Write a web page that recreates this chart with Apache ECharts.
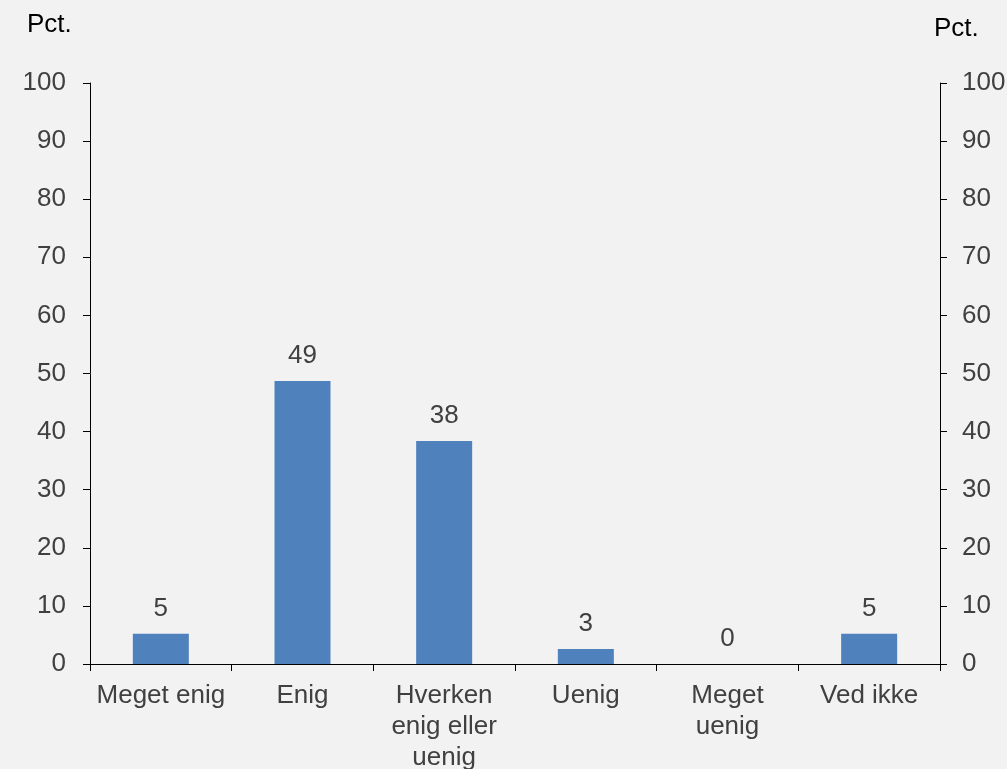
<!DOCTYPE html>
<html>
<head>
<meta charset="utf-8">
<script src="https://cdn.jsdelivr.net/npm/echarts@6/dist/echarts.min.js"></script>
<style>html,body{margin:0;padding:0;background:#f2f2f2;}#c{width:1007px;height:769px;}</style>
</head>
<body>
<div id="c"></div>
<script>
var categories = ['Meget enig', 'Enig', 'Hverken\nenig eller\nuenig', 'Uenig', 'Meget\nuenig', 'Ved ikke'];
var values = [5.2, 48.7, 38.4, 2.6, 0, 5.2];
var yTicksMin = 0, yTicksMax = 100, yTicksStep = 10;
var unitLabel = 'Pct.';

var font = 'Liberation Sans, Arial, sans-serif';
var fs = 26;
var chart = echarts.init(document.getElementById('c'));
var axisLineStyle = {color: '#000', width: 1};
function yAx(pos, margin) {
  return {
    type: 'value', position: pos, min: yTicksMin, max: yTicksMax, interval: yTicksStep,
    splitLine: {show: false},
    axisLine: {show: true, lineStyle: axisLineStyle},
    axisTick: {show: true, length: 7, inside: false, lineStyle: axisLineStyle},
    axisLabel: {margin: margin, color: '#404040', fontSize: fs, fontFamily: font}
  };
}
chart.setOption({
  backgroundColor: '#f2f2f2',
  animation: false,
  grid: {left: 90, right: 67, top: 83, bottom: 105, containLabel: false, outerBoundsMode: 'none'},
  graphic: [
    {type: 'text', left: 27, top: 12, style: {text: unitLabel, fontSize: fs, fontFamily: font, fill: '#000'}},
    {type: 'text', left: 934, top: 16, style: {text: unitLabel, fontSize: fs, fontFamily: font, fill: '#000'}}
  ],
  xAxis: {
    type: 'category', data: categories,
    axisLine: {show: true, lineStyle: axisLineStyle},
    axisTick: {show: true, length: 7, alignWithLabel: false, lineStyle: axisLineStyle},
    axisLabel: {margin: 16, color: '#404040', fontSize: fs, fontFamily: font, lineHeight: 31, interval: 0}
  },
  yAxis: [yAx('left', 24), yAx('right', 22)],
  series: [{
    type: 'bar', data: values, yAxisIndex: 0, barWidth: 56,
    itemStyle: {color: '#4f81bd'},
    label: {show: true, position: 'top', distance: 12, color: '#404040', fontSize: fs, fontFamily: font,
      formatter: function (p) { return Math.round(p.value); }}
  }]
});
</script>
</body>
</html>
